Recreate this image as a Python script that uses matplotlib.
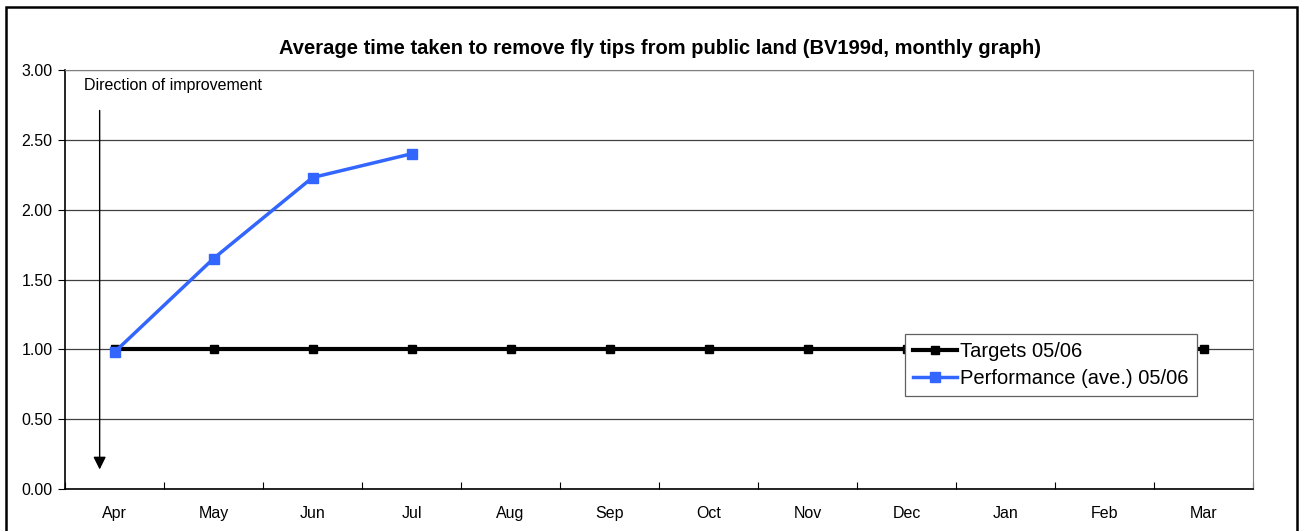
import matplotlib.pyplot as plt
from matplotlib.patches import Rectangle

MESES       = ["Apr", "May", "Jun", "Jul", "Aug", "Sep", "Oct", "Nov", "Dec", "Jan", "Feb", "Mar"]
METAS       = [1.00] * 12
DESEMPENHO  = [0.98, 1.65, 2.23, 2.40]
Y_TICKS     = [0.0, 0.5, 1.0, 1.5, 2.0, 2.5, 3.0]
TITULO      = "Average time taken to remove fly tips from public land (BV199d, monthly graph)"

plt.rcParams["font.family"] = ["Liberation Sans", "DejaVu Sans"]

fig = plt.figure(figsize=(13.02, 5.31), dpi=100)
W, H = 1302, 531
ax = fig.add_axes([65 / W, 1 - 489 / H, (1253 - 65) / W, (489 - 70) / H])

# moldura externa do gráfico
fig.patches.append(Rectangle((6 / W, -0.05), (1297 - 6) / W, 1 - 7 / H + 0.05,
                             transform=fig.transFigure, fill=False,
                             edgecolor="black", linewidth=1.8))

x = list(range(len(MESES)))
ax.plot(x, METAS, color="black", linewidth=3, marker="s", markersize=6,
        label="Targets 05/06", zorder=3)
ax.plot(x[:len(DESEMPENHO)], DESEMPENHO, color="#3366ff", linewidth=2.5,
        marker="s", markersize=7, label="Performance (ave.) 05/06", zorder=4)

ax.set_xlim(-0.5, 11.5)
ax.set_ylim(0, 3)
ax.set_yticks(Y_TICKS)
ax.set_yticklabels([f"{v:.2f}" for v in Y_TICKS], fontsize=11.5)
ax.set_xticks([i + 0.5 for i in range(-1, 12)])
ax.set_xticklabels([])
ax.set_xticks(x, minor=True)
ax.set_xticklabels(MESES, minor=True, fontsize=11.5)
ax.tick_params(axis="x", which="minor", length=0, pad=12)
ax.tick_params(axis="x", which="major", length=5, direction="in", color="black")
ax.tick_params(axis="y", length=5, direction="out", color="black", pad=4)
ax.grid(axis="y", color="#404040", linewidth=0.9)
ax.set_axisbelow(True)

for lado in ["top", "right"]:
    ax.spines[lado].set_color("#808080")
ax.spines["left"].set_linewidth(1.2)
ax.spines["bottom"].set_linewidth(1.2)

# seta "direction of improvement"
ax.annotate("", xy=(-0.15, 0.12), xytext=(-0.15, 2.73),
            arrowprops=dict(arrowstyle="-|>", color="black", lw=1,
                            mutation_scale=19))
ax.text(-0.31, 2.89, "Direction of improvement", fontsize=11.5, va="center")

fig.text(660 / W, 1 - 48 / H, TITULO, ha="center", va="center",
         fontsize=14.5, fontweight="bold")

leg = ax.legend(loc="upper left", bbox_to_anchor=((905 - 65) / (1253 - 65),
                (489 - 334) / (489 - 70)), fontsize=14.5, frameon=True,
                fancybox=False, edgecolor="#606060", framealpha=1,
                handlelength=2.2, handletextpad=0.15, borderpad=0.4,
                labelspacing=0.4, borderaxespad=0)
leg.get_frame().set_linewidth(0.9)

fig.savefig("out.png", dpi=100)
